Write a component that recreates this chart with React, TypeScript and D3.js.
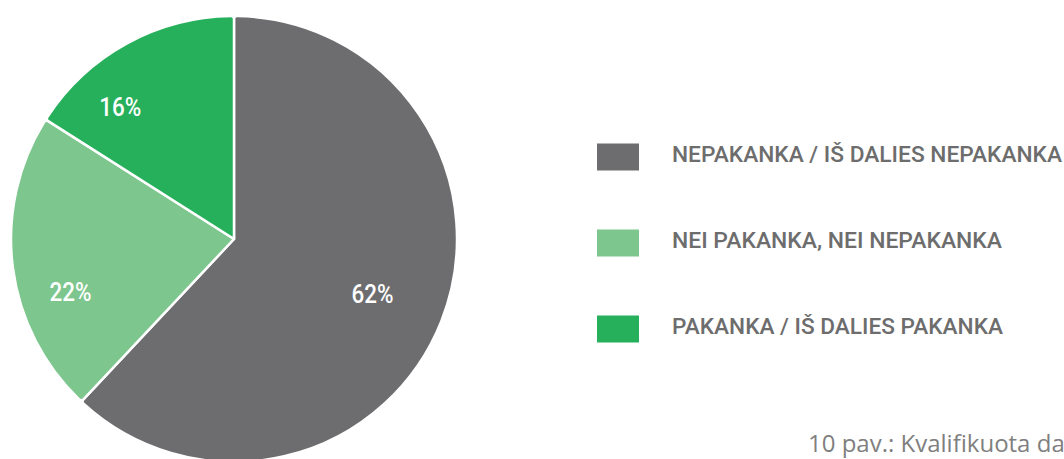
import React from "react";
import * as d3 from "d3";

const categories = ["NEPAKANKA / IŠ DALIES NEPAKANKA", "NEI PAKANKA, NEI NEPAKANKA", "PAKANKA / IŠ DALIES PAKANKA"];
const values = [62, 22, 16];
const colors = ["#6d6d6f", "#7dc68e", "#27b05c"];
const labelAngleShift = [0, -11, -12];
const labelRadius = [149, 172, 174];
const caption = "10 pav.: Kvalifikuota da";

const W = 1064;
const H = 459;

export default function App() {
  const cx = 234;
  const cy = 239;
  const R = 223;
  const pie = d3.pie<number>().sort(null).value((d) => d)(values);
  const arc = d3.arc<d3.PieArcDatum<number>>().innerRadius(0).outerRadius(R).cornerRadius(3);
  const legendY = d3.scalePoint<string>().domain(categories).range([157, 329]);

  return (
    <div style={{ position: "absolute", left: 0, top: 0, width: W, height: H, overflow: "hidden", background: "#fff" }}>
      <svg width={W} height={H} style={{ display: "block" }}>
        <g transform={`translate(${cx},${cy})`}>
          {pie.map((p, i) => (
            <path key={i} d={arc(p) || ""} fill={colors[i]} stroke="#fff" strokeWidth={2.5} strokeLinejoin="round" />
          ))}
          {pie.map((p, i) => {
            const a = (p.startAngle + p.endAngle) / 2 + (labelAngleShift[i] * Math.PI) / 180;
            const r = labelRadius[i];
            const x = Math.sin(a) * r;
            const y = -Math.cos(a) * r;
            const t = `${values[i]}%`;
            return (
              <text key={i} x={x} y={y} dy="0.35em" textAnchor="middle" fill="#fff"
                fontFamily="Roboto, 'DejaVu Sans', sans-serif" fontWeight={500} fontSize={25}
                textLength={42} lengthAdjust="spacingAndGlyphs">{t}</text>
            );
          })}
        </g>
        {categories.map((c, i) => {
          const y = legendY(c) as number;
          const widths = [390, 330, 331];
          return (
            <g key={c}>
              <rect x={597} y={y - 13.5} width={42} height={27} fill={colors[i]} />
              <text x={672} y={y + 5} fill="#6d6d6d" fontFamily="Roboto, 'DejaVu Sans', sans-serif"
                fontWeight={500} fontSize={22} textLength={widths[i]} lengthAdjust="spacingAndGlyphs">{c}</text>
            </g>
          );
        })}
        <text x={808} y={452} fill="#7f7f7f" fontFamily="'Open Sans', sans-serif" fontSize={24}>{caption}</text>
      </svg>
    </div>
  );
}
